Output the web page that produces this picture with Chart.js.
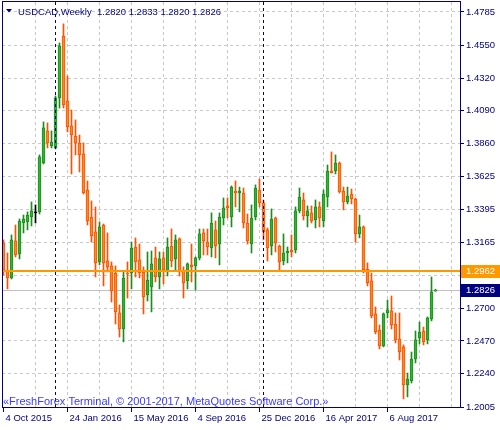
<!DOCTYPE html>
<html>
<head>
<meta charset="utf-8">
<script src="https://cdn.jsdelivr.net/npm/chart.js@4"></script>
<style>
  html, body { margin: 0; padding: 0; background: #fff; }
</style>
</head>
<body>
<canvas id="chart" width="500" height="430"></canvas>
<script>
// USDCAD weekly candles, week of 4 Oct 2015 (index 0) to week of 29 Oct 2017 (index 108)
const opens = [
  1.3159, 1.2962, 1.2913, 1.3174, 1.3082, 1.3300, 1.3307, 1.3342, 1.3371, 1.3378,
  1.3722, 1.3948, 1.3842, 1.3828, 1.4180, 1.4616, 1.4159, 1.3983, 1.3912, 1.3863,
  1.3786, 1.3532, 1.3342, 1.3237, 1.3026, 1.3286, 1.3033, 1.2998, 1.2948, 1.2667,
  1.2554, 1.2948, 1.2948, 1.3131, 1.3040, 1.2955, 1.2793, 1.2850, 1.3054, 1.2920,
  1.3054, 1.2955, 1.3138, 1.3047, 1.3188, 1.2962, 1.2892, 1.3005, 1.2998, 1.3054,
  1.3230, 1.3166, 1.3124, 1.3251, 1.3152, 1.3335, 1.3420, 1.3342, 1.3525, 1.3511,
  1.3511, 1.3300, 1.3152, 1.3342, 1.3532, 1.3441, 1.3251, 1.3138, 1.3335, 1.3138,
  1.3033, 1.3089, 1.3110, 1.3110, 1.3385, 1.3462, 1.3349, 1.3371, 1.3321, 1.3413,
  1.3314, 1.3483, 1.3666, 1.3666, 1.3722, 1.3525, 1.3448, 1.3504, 1.3469, 1.3223,
  1.3272, 1.2976, 1.2892, 1.2660, 1.2547, 1.2435, 1.2667, 1.2681, 1.2589, 1.2484,
  1.2428, 1.2160, 1.2188, 1.2343, 1.2491, 1.2540, 1.2477, 1.2625, 1.2820
];
const highs = [
  1.3181, 1.3089, 1.3216, 1.3286, 1.3328, 1.3356, 1.3378, 1.3448, 1.3427, 1.3779,
  1.4011, 1.4004, 1.3948, 1.4194, 1.4567, 1.4701, 1.4335, 1.4095, 1.4025, 1.3919,
  1.3863, 1.3596, 1.3455, 1.3413, 1.3307, 1.3293, 1.3230, 1.3026, 1.2998, 1.2723,
  1.2955, 1.3026, 1.3166, 1.3195, 1.3152, 1.2991, 1.3096, 1.3103, 1.3131, 1.3096,
  1.3096, 1.3195, 1.3258, 1.3216, 1.3195, 1.2991, 1.3019, 1.3152, 1.3061, 1.3258,
  1.3258, 1.3258, 1.3371, 1.3314, 1.3371, 1.3476, 1.3476, 1.3561, 1.3596, 1.3553,
  1.3546, 1.3363, 1.3427, 1.3568, 1.3610, 1.3462, 1.3265, 1.3399, 1.3342, 1.3145,
  1.3223, 1.3131, 1.3216, 1.3413, 1.3546, 1.3511, 1.3420, 1.3420, 1.3462, 1.3448,
  1.3532, 1.3708, 1.3800, 1.3779, 1.3729, 1.3553, 1.3553, 1.3539, 1.3476, 1.3356,
  1.3279, 1.3019, 1.2948, 1.2709, 1.2582, 1.2667, 1.2758, 1.2786, 1.2667, 1.2667,
  1.2442, 1.2244, 1.2392, 1.2540, 1.2603, 1.2568, 1.2639, 1.2920, 1.2833
];
const lows = [
  1.2934, 1.2836, 1.2906, 1.3061, 1.3047, 1.3230, 1.3251, 1.3279, 1.3300, 1.3363,
  1.3715, 1.3828, 1.3828, 1.3821, 1.4109, 1.4109, 1.3941, 1.3645, 1.3779, 1.3659,
  1.3504, 1.3286, 1.3166, 1.2920, 1.3005, 1.2857, 1.2955, 1.2744, 1.2589, 1.2498,
  1.2463, 1.2772, 1.2836, 1.2920, 1.2913, 1.2660, 1.2751, 1.2674, 1.2885, 1.2836,
  1.2871, 1.2927, 1.2991, 1.2969, 1.2927, 1.2772, 1.2836, 1.2885, 1.2829, 1.3040,
  1.3075, 1.3075, 1.3061, 1.3054, 1.3005, 1.3286, 1.3335, 1.3272, 1.3413, 1.3378,
  1.3265, 1.3152, 1.3089, 1.3321, 1.3413, 1.3181, 1.3033, 1.3075, 1.3096, 1.2969,
  1.3005, 1.3019, 1.3061, 1.3089, 1.3371, 1.3321, 1.3272, 1.3300, 1.3265, 1.3272,
  1.3272, 1.3413, 1.3652, 1.3645, 1.3511, 1.3392, 1.3434, 1.3434, 1.3166, 1.3195,
  1.2948, 1.2857, 1.2632, 1.2519, 1.2414, 1.2428, 1.2632, 1.2554, 1.2456, 1.2336,
  1.2062, 1.2076, 1.2174, 1.2315, 1.2449, 1.2442, 1.2449, 1.2611, 1.2820
];
const closes = [
  1.2969, 1.2913, 1.3181, 1.3075, 1.3314, 1.3328, 1.3356, 1.3385, 1.3371, 1.3765,
  1.3969, 1.3863, 1.3870, 1.4180, 1.4546, 1.4130, 1.3976, 1.3919, 1.3863, 1.3779,
  1.3511, 1.3314, 1.3209, 1.3019, 1.3272, 1.3019, 1.2991, 1.2822, 1.2674, 1.2554,
  1.2913, 1.2941, 1.3124, 1.3026, 1.2948, 1.2779, 1.2899, 1.3012, 1.2920, 1.3047,
  1.2969, 1.3131, 1.3033, 1.3181, 1.2962, 1.2878, 1.3012, 1.2991, 1.3054, 1.3223,
  1.3174, 1.3131, 1.3300, 1.3138, 1.3342, 1.3406, 1.3406, 1.3553, 1.3511, 1.3525,
  1.3300, 1.3174, 1.3335, 1.3546, 1.3441, 1.3237, 1.3124, 1.3328, 1.3159, 1.3026,
  1.3089, 1.3103, 1.3096, 1.3385, 1.3483, 1.3349, 1.3385, 1.3314, 1.3413, 1.3335,
  1.3504, 1.3666, 1.3652, 1.3722, 1.3518, 1.3448, 1.3490, 1.3469, 1.3223, 1.3272,
  1.2969, 1.2878, 1.2646, 1.2533, 1.2435, 1.2660, 1.2688, 1.2582, 1.2477, 1.2392,
  1.2160, 1.2202, 1.2343, 1.2477, 1.2533, 1.2463, 1.2632, 1.2815, 1.2826
];

// axis labels: a date every 16 weeks, price ticks as MetaTrader prints them
const xTickLabels = ['4 Oct 2015', '24 Jan 2016', '15 May 2016', '4 Sep 2016', '25 Dec 2016', '16 Apr 2017', '6 Aug 2017'];
const yTickLabels = [1.4785, 1.4550, 1.4320, 1.4090, 1.3860, 1.3625, 1.3395, 1.3165, 1.2930, 1.2700, 1.2470, 1.2240, 1.2005];
const yearSeparators = [13, 65];   // first week of 2016 and 2017
const levelLine = 1.2962;
const symbol = 'USDCAD,Weekly';
const watermark = '\u00abFreshForex Terminal, \u00a9 2001-2017, MetaQuotes Software Corp.\u00bb';

const NAVY = '#000080';
const UP_FILL = '#2fb52f', UP_LINE = '#1d8c1d';
const DN_FILL = '#ff8a1c', DN_LINE = '#ff4f00';
const FONT = 'Liberation Sans, Arial, sans-serif';

const last = closes.length - 1;
const bidLine = closes[last];

function candleDir(i) {
    if (closes[i] > opens[i]) return 1;
    if (closes[i] < opens[i]) return -1;
    return 0;
}
const lineColor = i => candleDir(i) > 0 ? UP_LINE : candleDir(i) < 0 ? DN_LINE : '#000';
const fillColor = i => candleDir(i) > 0 ? UP_FILL : candleDir(i) < 0 ? DN_FILL : '#000';

const gridWeeks = [];
for (let w = 0; w <= 112; w += 8) gridWeeks.push(w);

const xLabelAt = v => (v % 16 === 0 && xTickLabels[v / 16]) ? xTickLabels[v / 16] : '';

// MetaTrader look: separators, level lines, title, watermark, price tags
const mtDecor = {
    id: 'mtDecor',
    beforeDatasetsDraw(chart) {
        const {ctx, chartArea: a, scales: {y}} = chart;
        const yb = Math.round(y.getPixelForValue(bidLine)) + 0.5;
        ctx.save();
        ctx.strokeStyle = '#c0c0c0';
        ctx.lineWidth = 1;
        ctx.beginPath();
        ctx.moveTo(a.left, yb);
        ctx.lineTo(a.right, yb);
        ctx.stroke();
        ctx.restore();
    },
    afterDraw(chart) {
        const {ctx, chartArea: a, scales: {x, y}} = chart;
        ctx.save();

        // year separators
        ctx.strokeStyle = NAVY;
        ctx.lineWidth = 1;
        ctx.setLineDash([3, 3]);
        yearSeparators.forEach(w => {
            const px = Math.floor(x.getPixelForValue(w)) + 0.5;
            ctx.beginPath();
            ctx.moveTo(px, a.top);
            ctx.lineTo(px, a.bottom);
            ctx.stroke();
        });
        ctx.setLineDash([]);

        // horizontal level
        const yl = y.getPixelForValue(levelLine);
        ctx.strokeStyle = '#ff9900';
        ctx.lineWidth = 2;
        ctx.beginPath();
        ctx.moveTo(a.left, Math.round(yl));
        ctx.lineTo(a.right, Math.round(yl));
        ctx.stroke();

        // watermark
        ctx.fillStyle = '#3b3bff';
        ctx.font = '11px ' + FONT;
        ctx.textBaseline = 'alphabetic';
        ctx.textAlign = 'left';
        ctx.fillText(watermark, 3, 405);

        // title
        ctx.fillStyle = NAVY;
        ctx.beginPath();
        ctx.moveTo(6, 9);
        ctx.lineTo(12, 9);
        ctx.lineTo(9, 12.5);
        ctx.closePath();
        ctx.fill();
        ctx.font = '9.5px ' + FONT;
        const ohlc = [opens[last], highs[last], lows[last], closes[last]].map(v => v.toFixed(4)).join(' ');
        ctx.fillText(symbol + '  ' + ohlc, 18, 14.5);

        // frame
        ctx.strokeStyle = NAVY;
        ctx.lineWidth = 1;
        ctx.strokeRect(a.left + 0.5, a.top - 0.5, a.right - a.left, a.bottom - a.top + 1);

        // price tags on the right scale
        const tag = (val, bg) => {
            const py = Math.round(y.getPixelForValue(val));
            ctx.fillStyle = bg;
            ctx.fillRect(a.right + 1, py - 6, 500 - a.right - 1, 13);
            ctx.fillStyle = '#fff';
            ctx.font = '9.5px ' + FONT;
            ctx.textBaseline = 'middle';
            ctx.fillText(val.toFixed(4), a.right + 6, py + 0.5);
        };
        tag(levelLine, '#ff9900');
        tag(bidLine, NAVY);

        ctx.restore();
    }
};

new Chart(document.getElementById('chart'), {
    type: 'bar',
    data: {
        datasets: [
            {
                label: 'wick',
                data: opens.map((o, i) => ({x: i, y: [lows[i], highs[i]]})),
                backgroundColor: ctx => lineColor(ctx.dataIndex),
                borderWidth: 0,
                barThickness: 1,
                grouped: false,
                order: 1
            },
            {
                label: 'body',
                data: opens.map((o, i) => ({x: i, y: [o, closes[i]]})),
                backgroundColor: ctx => fillColor(ctx.dataIndex),
                borderColor: ctx => lineColor(ctx.dataIndex),
                borderWidth: 1,
                borderSkipped: false,
                barThickness: 3,
                minBarLength: 1,
                grouped: false,
                order: 0
            }
        ]
    },
    options: {
        responsive: false,
        animation: false,
        layout: { padding: { left: 2, top: 2, right: 0, bottom: 0 } },
        plugins: { legend: { display: false }, tooltip: { enabled: false } },
        scales: {
            x: {
                type: 'linear',
                offset: false,
                min: -0.375,
                max: 114.125,
                afterBuildTicks: s => { s.ticks = gridWeeks.map(v => ({value: v})); },
                afterFit: s => {
                    s.height = 23;
                    s.paddingLeft = 0;
                    s.paddingRight = 0;
                },
                ticks: {
                    autoSkip: false,
                    maxRotation: 0,
                    minRotation: 0,
                    align: 'start',
                    labelOffset: 2,
                    padding: 1,
                    color: NAVY,
                    font: { family: FONT, size: 9.5 },
                    callback: v => xLabelAt(v)
                },
                grid: {
                    offset: false,
                    color: c => (c.tick && c.tick.value === 0) ? 'rgba(0,0,0,0)' : '#c8c8c8',
                    tickColor: c => (c.tick && xLabelAt(c.tick.value)) ? NAVY : 'rgba(0,0,0,0)',
                    tickLength: 5
                },
                border: { display: false, dash: [3, 3] }
            },
            y: {
                type: 'linear',
                position: 'right',
                min: 1.2005,
                max: 1.4855,
                afterBuildTicks: s => { s.ticks = yTickLabels.map(v => ({value: v})); },
                afterFit: s => {
                    s.width = 40;
                    s.paddingTop = 0;
                    s.paddingBottom = 0;
                },
                ticks: {
                    padding: 2,
                    color: NAVY,
                    font: { family: FONT, size: 9.5 },
                    callback: v => v.toFixed(4)
                },
                grid: {
                    color: '#c8c8c8',
                    tickColor: NAVY,
                    tickLength: 4
                },
                border: { display: false, dash: [3, 3] }
            }
        }
    },
    plugins: [mtDecor]
});
</script>
</body>
</html>
